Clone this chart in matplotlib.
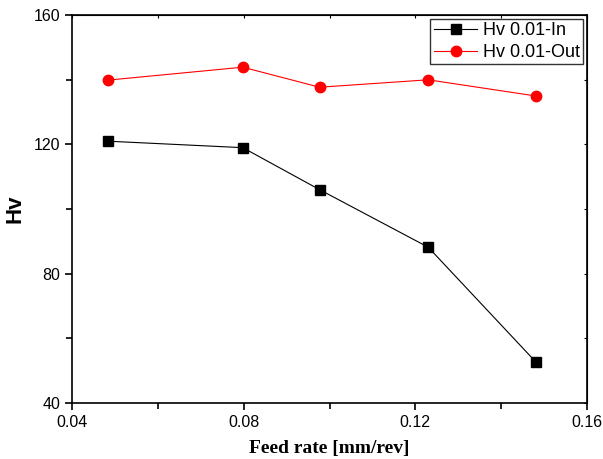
import numpy as np
import matplotlib
matplotlib.use('Agg')
import matplotlib.pyplot as plt
from matplotlib.ticker import MultipleLocator

# feed rate and hardness values
feed = [0.0484, 0.0798, 0.0977, 0.123, 0.148]
hv_in = [121, 119, 106, 88.2, 52.8]
hv_out = [139.9, 143.9, 137.7, 140, 135]

plt.rcParams['font.family'] = ['Liberation Sans', 'DejaVu Sans']

fig = plt.figure(figsize=(6.03, 4.59), dpi=100)
ax = fig.add_axes([0.1194, 0.122, 0.8541, 0.845])

ax.plot(feed, hv_in, color='black', lw=0.8, marker='s', ms=6.5, label='Hv 0.01-In')
ax.plot(feed, hv_out, color='red', lw=0.8, marker='o', ms=7.5, label='Hv 0.01-Out')

ax.set_xlim(0.04, 0.16)
ax.set_ylim(40, 160)
ax.set_xticks([0.04, 0.08, 0.12, 0.16])
ax.set_xticklabels(['0.04', '0.08', '0.12', '0.16'])
ax.set_yticks([40, 80, 120, 160])
ax.xaxis.set_minor_locator(MultipleLocator(0.02))
ax.yaxis.set_minor_locator(MultipleLocator(20))
ax.tick_params(which='both', direction='out', labelsize=11.5, width=1.2)
ax.tick_params(which='major', length=5)
ax.tick_params(which='minor', length=4)
# tiny ticks on the top and right spines
ax2 = ax.secondary_xaxis('top')
ax2.set_xticks([0.04, 0.06, 0.08, 0.10, 0.12, 0.14, 0.16])
ax2.tick_params(direction='in', length=2, width=0.8, labeltop=False)
ay2 = ax.secondary_yaxis('right')
ay2.set_yticks([40, 60, 80, 100, 120, 140, 160])
ay2.tick_params(direction='in', length=2, width=0.8, labelright=False)
for s in ax.spines.values():
    s.set_linewidth(1.2)

ax.set_xlabel('Feed rate [mm/rev]', family=['Liberation Serif', 'DejaVu Serif'],
              fontweight='bold', fontsize=14, labelpad=7)
ax.set_ylabel('Hv', fontweight='bold', fontsize=16, labelpad=6)

leg = ax.legend(loc='upper right', fontsize=13, frameon=True, fancybox=False,
                edgecolor='black', borderpad=0.2, handlelength=2.4,
                handletextpad=0.3, labelspacing=0.25, borderaxespad=0.2)
leg.get_frame().set_linewidth(1.0)

fig.savefig('out.png', dpi=100)
